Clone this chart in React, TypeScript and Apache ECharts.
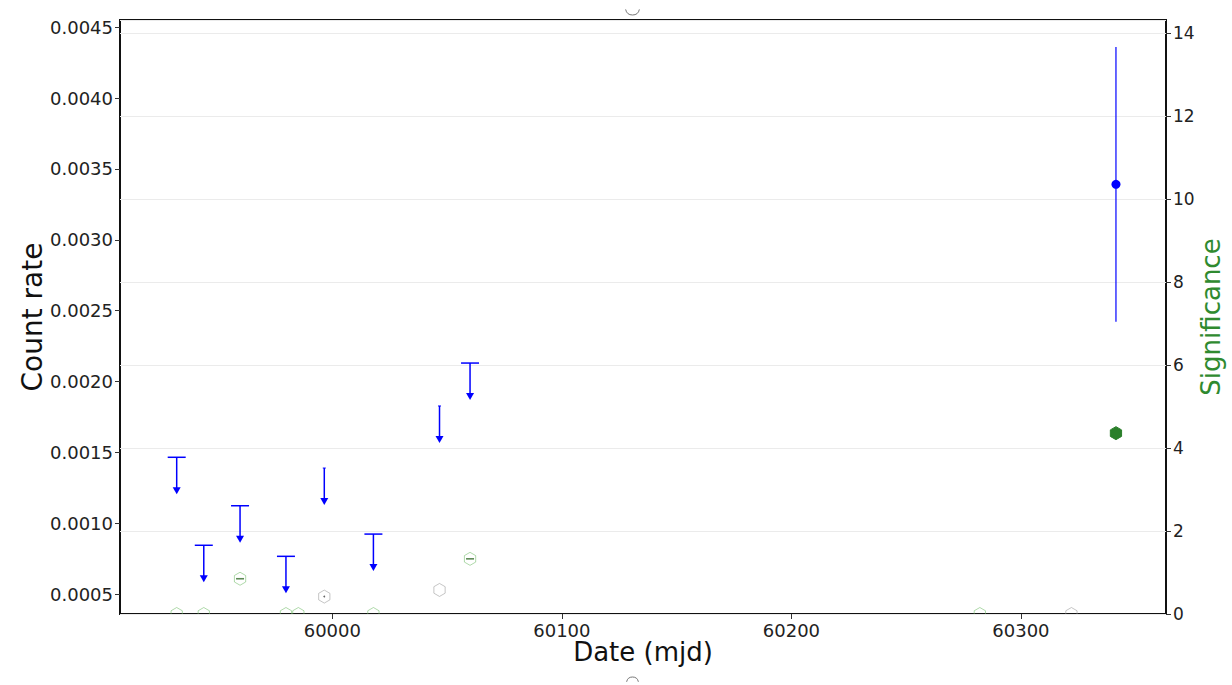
import React, { useEffect, useRef } from 'react';
import * as echarts from 'echarts';

// ---- data ----
const ulDates = [59932.2, 59944.0, 59959.8, 59979.8, 59996.5, 60017.9, 60046.7, 60060.0];
const ulRates = [0.001465, 0.000844, 0.001123, 0.000766, 0.001389, 0.000923, 0.001827, 0.00213];
const ulCapped = [1, 1, 1, 1, 0, 1, 0, 1];

const detDates = [60341.4];
const detRates = [0.003391];
const detErrors = [0.00097];

const sigDates = [59932.2, 59944.0, 59959.8, 59979.8, 59985.2, 59996.5, 60017.9, 60046.7, 60060.0, 60282.1, 60322.0, 60341.4];
const sigValues = [0, 0, 0.85, 0, 0, 0.42, 0, 0.58, 1.33, 0, 0, 4.36];

const xTicks = [60000, 60100, 60200, 60300];
const rateTicks = [0.0005, 0.001, 0.0015, 0.002, 0.0025, 0.003, 0.0035, 0.004, 0.0045];

// ---- styles ----
const sigGlyph = ['g', 'g', 'gd', 'g', 'g', 'kd', 'g', 'kd', 'gd', 'g', 'k', 'fill'];
const BLUE = '#0000ff';
const GREEN = '#2f8a2f';
const FONT = 'DejaVu Sans';

function hexPoints(cx: number, cy: number, r: number) {
  const pts: number[][] = [];
  for (let k = 0; k < 6; k++) {
    const a = -Math.PI / 2 + (k * Math.PI) / 3;
    pts.push([cx + r * Math.cos(a), cy + r * Math.sin(a)]);
  }
  return pts;
}

export default function App() {
  const ref = useRef<HTMLDivElement>(null);
  useEffect(() => {
    const chart = echarts.init(ref.current!, null, { renderer: 'svg' });
    const labelStyle = { fontFamily: FONT, fontSize: 18, lineHeight: 18, color: '#222' };
    const option: any = {
      animation: false,
      backgroundColor: '#ffffff',
      grid: { left: 120, right: 66, top: 20, bottom: 71, show: true, borderColor: '#111', borderWidth: 2, backgroundColor: '#fff' },
      xAxis: {
        type: 'value', min: 59907.5, max: 60363.2,
        name: 'Date (mjd)', nameLocation: 'middle', nameGap: 25, nameMoveOverlap: false,
        nameTextStyle: { fontFamily: FONT, fontSize: 26, lineHeight: 26, color: '#111' },
        axisLine: { show: false },
        axisTick: { show: true, customValues: xTicks, length: 5, lineStyle: { color: '#333' } },
        axisLabel: { ...labelStyle, customValues: xTicks, margin: 7, formatter: (v: number) => String(Math.round(v)) },
        splitLine: { show: false },
      },
      yAxis: [
        {
          type: 'value', min: 0.000359, max: 0.004551, position: 'left',
          name: 'Count rate', nameLocation: 'middle', nameGap: 74, nameRotate: 90, nameMoveOverlap: false,
          nameTextStyle: { fontFamily: FONT, fontSize: 28, color: '#111' },
          axisLine: { show: false },
          axisTick: { show: true, customValues: rateTicks, length: 5, lineStyle: { color: '#333' } },
          axisLabel: { ...labelStyle, customValues: rateTicks, margin: 7, formatter: (v: number) => v.toFixed(4) },
          splitLine: { show: false },
        },
        {
          type: 'value', min: 0, max: 14.32, interval: 2, position: 'right',
          name: 'Significance', nameLocation: 'middle', nameGap: 32, nameRotate: 90, nameMoveOverlap: false,
          nameTextStyle: { fontFamily: FONT, fontSize: 26, color: GREEN },
          axisLine: { show: false },
          axisTick: { show: true, length: 5, lineStyle: { color: '#333' } },
          axisLabel: { ...labelStyle, fontSize: 17, margin: 7, showMaxLabel: false, formatter: (v: number) => String(v) },
          splitLine: { show: true, lineStyle: { color: '#ebebeb', width: 1 } },
        },
      ],
      series: [
        {
          type: 'custom', name: 'sig', xAxisIndex: 0, yAxisIndex: 1, clip: true,
          encode: { x: 0, y: 1 },
          data: sigDates.map((d, i) => [d, sigValues[i]]),
          renderItem: (params: any, api: any) => {
            const p = api.coord([api.value(0), api.value(1)]);
            const g = sigGlyph[params.dataIndex];
            const children: any[] = [];
            if (g === 'fill') {
              children.push({ type: 'polygon', shape: { points: hexPoints(p[0], p[1], 6.5) }, style: { fill: '#2a7f2a', stroke: '#2a7f2a', lineWidth: 1 } });
            } else {
              const stroke = g === 'kd' || g === 'k' ? 'rgba(150,150,150,0.55)' : 'rgba(110,185,100,0.55)';
              children.push({ type: 'polygon', shape: { points: hexPoints(p[0], p[1], 6.5) }, style: { fill: 'none', stroke, lineWidth: 1 } });
              if (g === 'gd') {
                children.push({ type: 'line', shape: { x1: p[0] - 4, y1: p[1], x2: p[0] + 4, y2: p[1] }, style: { stroke: '#5d8a55', lineWidth: 1.6 } });
              }
              if (g === 'kd') {
                children.push({ type: 'circle', shape: { cx: p[0], cy: p[1], r: 0.9 }, style: { fill: '#666' } });
              }
            }
            return { type: 'group', children };
          },
        },
        {
          type: 'custom', name: 'upper limits', xAxisIndex: 0, yAxisIndex: 0,
          encode: { x: 0, y: 1 },
          data: ulDates.map((d, i) => [d, ulRates[i], ulCapped[i]]),
          renderItem: (params: any, api: any) => {
            const p = api.coord([api.value(0), api.value(1)]);
            const cap = api.value(2);
            const len = 37, ah = 7, aw = 8;
            const children: any[] = [
              { type: 'line', shape: { x1: p[0], y1: p[1], x2: p[0], y2: p[1] + len - ah + 1 }, style: { stroke: BLUE, lineWidth: 1.5 } },
              { type: 'polygon', shape: { points: [[p[0] - aw / 2, p[1] + len - ah], [p[0] + aw / 2, p[1] + len - ah], [p[0], p[1] + len]] }, style: { fill: BLUE } },
            ];
            if (cap) {
              children.push({ type: 'line', shape: { x1: p[0] - 9, y1: p[1], x2: p[0] + 9, y2: p[1] }, style: { stroke: BLUE, lineWidth: 1.5 } });
            } else {
              children.push({ type: 'line', shape: { x1: p[0] - 1.5, y1: p[1], x2: p[0] + 1.5, y2: p[1] }, style: { stroke: BLUE, lineWidth: 1 } });
            }
            return { type: 'group', children };
          },
        },
        {
          type: 'custom', name: 'detection', xAxisIndex: 0, yAxisIndex: 0,
          encode: { x: 0, y: 1 },
          data: detDates.map((d, i) => [d, detRates[i], detErrors[i]]),
          renderItem: (params: any, api: any) => {
            const x = api.value(0), y = api.value(1), e = api.value(2);
            const p = api.coord([x, y]);
            const top = api.coord([x, y + e]);
            const bot = api.coord([x, y - e]);
            return {
              type: 'group',
              children: [
                { type: 'line', shape: { x1: top[0], y1: top[1], x2: bot[0], y2: bot[1] }, style: { stroke: BLUE, lineWidth: 1.2 } },
                { type: 'circle', shape: { cx: p[0], cy: p[1], r: 4.5 }, style: { fill: BLUE } },
              ],
            };
          },
        },
      ],
      graphic: [
        { type: 'arc', shape: { cx: 632.5, cy: 8, r: 7, startAngle: 0.2, endAngle: Math.PI - 0.2 }, style: { stroke: '#777', fill: 'none', lineWidth: 1 } },
        { type: 'arc', shape: { cx: 632.5, cy: 683, r: 6, startAngle: Math.PI + 0.2, endAngle: 2 * Math.PI - 0.2 }, style: { stroke: '#777', fill: 'none', lineWidth: 1 } },
      ],
    };
    chart.setOption(option);
    return () => chart.dispose();
  }, []);
  return <div ref={ref} style={{ position: 'fixed', left: 0, top: 0, width: 1232, height: 685 }} />;
}
